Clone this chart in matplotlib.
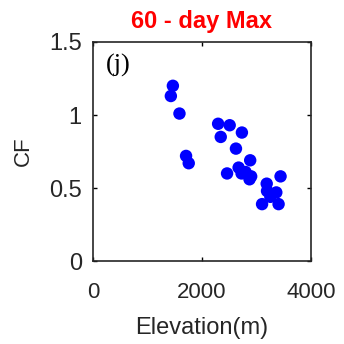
import numpy as np
import matplotlib
matplotlib.use("Agg")
import matplotlib.pyplot as plt

# elevation (m) and CF for each station
elevation = [1467, 1430, 1588, 1709, 1758, 2297, 2509, 2345, 2733, 2624,
             2885, 2461, 2673, 2727, 2800, 2903, 2873, 3442, 3188, 3194,
             3364, 3255, 3103, 3406]
cf = [1.20, 1.13, 1.01, 0.72, 0.67, 0.94, 0.93, 0.85, 0.88, 0.77,
      0.69, 0.60, 0.64, 0.60, 0.61, 0.58, 0.56, 0.58, 0.53, 0.48,
      0.47, 0.44, 0.39, 0.39]

xticks = [0, 2000, 4000]
yticks = [0, 0.5, 1, 1.5]
ytick_labels = ["0", "0.5", "1", "1.5"]

plt.rcParams['font.family'] = ['Liberation Sans', 'DejaVu Sans']

fig = plt.figure(figsize=(3.44, 3.44), dpi=100)
ax = fig.add_axes([0.270, 0.241, 0.634, 0.637])

ax.scatter(elevation, cf, s=80, color='#0000ff', edgecolors='none', zorder=3)

ax.set_xlim(0, 4000)
ax.set_ylim(0, 1.5)
ax.set_xticks(xticks)
ax.set_yticks(yticks)
ax.set_yticklabels(ytick_labels)
ax.tick_params(direction='in', top=True, right=True, length=3, width=1,
               labelcolor='#262626')
ax.tick_params(axis='x', labelsize=16, pad=15)
ax.tick_params(axis='y', labelsize=17, pad=8)
for sp in ax.spines.values():
    sp.set_linewidth(1.2)
    sp.set_color('#262626')

ax.set_xlabel('Elevation(m)', fontsize=17, color='#262626', labelpad=10)
ax.set_ylabel('CF', fontsize=16, color='#262626', labelpad=11)
ax.set_title('60 - day Max', fontsize=17, color='#ff0000', fontweight='bold', pad=10)

ax.text(0.06, 0.945, '(j)', transform=ax.transAxes, fontsize=19,
        family='Liberation Serif', va='top', ha='left')

fig.savefig('out.png', dpi=100)
